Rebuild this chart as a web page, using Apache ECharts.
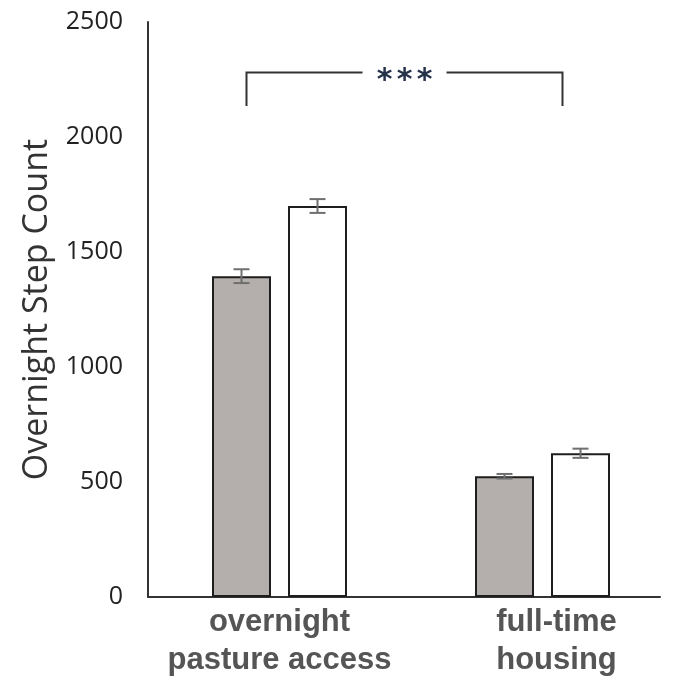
<!DOCTYPE html>
<html>
<head>
<meta charset="utf-8">
<script src="https://cdn.jsdelivr.net/npm/echarts@6/dist/echarts.min.js"></script>
<style>
  html, body { margin: 0; padding: 0; background: #fff; }
  #main { width: 677px; height: 678px; }
</style>
</head>
<body>
<div id="main"></div>
<script>
// data
const categories = ['overnight\npasture access', 'full-time\nhousing'];
const greyValues = [1395, 525];
const whiteValues = [1700, 625];
const greyErrors = [30, 10];
const whiteErrors = [30, 20];
const yMin = 0;
const yMax = 2500;
const yStep = 500;
// significance bracket: [from category, to category, top value, foot value]
const bracket = [[0, 1, 2280, 2135]];
const bracketStars = ['*', '*', '*'];

const barW = 59;
const barGap = 17;
const half = (barW + barGap) / 2;

const chart = echarts.init(document.getElementById('main'));

// error bar for one series, shifted to its bar
const errorBars = (shift) => (params, api) => {
    const x = api.value(0);
    const v = api.value(1);
    const e = api.value(2);
    const hi = api.coord([x, v + e]);
    const lo = api.coord([x, v - e]);
    const cx = hi[0] + shift;
    const cap = 8;
    const style = { stroke: '#6f6f6f', lineWidth: 2 };
    return {
        type: 'group',
        children: [
            { type: 'line', shape: { x1: cx, y1: hi[1], x2: cx, y2: lo[1] }, style },
            { type: 'line', shape: { x1: cx - cap, y1: hi[1], x2: cx + cap, y2: hi[1] }, style },
            { type: 'line', shape: { x1: cx - cap, y1: lo[1], x2: cx + cap, y2: lo[1] }, style }
        ]
    };
};

const labelStyle = { fontFamily: 'Liberation Sans', fontWeight: 'bold', fontSize: 31, color: '#555', lineHeight: 38 };

const option = {
    animation: false,
    backgroundColor: '#fff',
    grid: [
        { left: 148, right: 3, top: 22, bottom: 81 },
        { left: 148, right: 17, top: 22, bottom: 81 }
    ],
    xAxis: [
        {
            type: 'category',
            gridIndex: 0,
            data: categories,
            axisLine: { show: false },
            axisTick: { show: false },
            axisLabel: {
                margin: 6,
                interval: 0,
                formatter: (v, i) => {
                    const k = i === 1 ? 'b' : 'a';
                    return v.split('\n').map(s => '{' + k + '|' + s + '}').join('\n');
                },
                rich: {
                    a: labelStyle,
                    b: Object.assign({}, labelStyle, { padding: [0, 0, 0, 28] })
                }
            }
        },
        {
            type: 'value',
            gridIndex: 1,
            axisLine: { show: true, onZero: false, lineStyle: { color: '#333', width: 2 } },
            axisTick: { show: false },
            axisLabel: { show: false },
            splitLine: { show: false }
        }
    ],
    yAxis: [
        {
            type: 'value',
            gridIndex: 0,
            min: yMin,
            max: yMax,
            interval: yStep,
            name: 'Overnight Step Count',
            nameLocation: 'middle',
            nameGap: 94,
            nameTextStyle: { fontFamily: 'Open Sans', fontSize: 34, color: '#333' },
            axisLine: { show: true, lineStyle: { color: '#333', width: 2 } },
            axisTick: { show: false },
            splitLine: { show: false },
            axisLabel: {
                margin: 25,
                fontFamily: 'Open Sans',
                fontSize: 25,
                color: '#222',
                formatter: (v) => String(v)
            }
        },
        { type: 'value', gridIndex: 1, show: false, min: yMin, max: yMax }
    ],
    series: [
        {
            type: 'bar',
            data: greyValues,
            barWidth: barW,
            barGap: (barGap / barW * 100) + '%',
            itemStyle: { color: '#b4afac', borderColor: '#1e1e1e', borderWidth: 2 }
        },
        {
            type: 'bar',
            data: whiteValues,
            barWidth: barW,
            itemStyle: { color: '#ffffff', borderColor: '#1e1e1e', borderWidth: 2 }
        },
        {
            type: 'custom',
            renderItem: errorBars(-half),
            data: greyValues.map((v, i) => [i, v, greyErrors[i]]),
            z: 5
        },
        {
            type: 'custom',
            renderItem: errorBars(half),
            data: whiteValues.map((v, i) => [i, v, whiteErrors[i]]),
            z: 5
        },
        {
            type: 'custom',
            data: bracket,
            z: 5,
            renderItem: (params, api) => {
                const top0 = api.coord([api.value(0), api.value(2)]);
                const top1 = api.coord([api.value(1), api.value(2)]);
                const foot = api.coord([api.value(0), api.value(3)]);
                const left = top0[0] - 33;
                const right = top1[0] + 20;
                const mid = (left + right) / 2;
                const gapHalf = 42;
                const y = top0[1];
                const style = { stroke: '#333', lineWidth: 2, fill: null };
                const stars = bracketStars.map((s, i) => ({
                    type: 'text',
                    x: mid + (i - 1) * 20,
                    y: y + 9,
                    style: {
                        text: s,
                        fontFamily: 'DejaVu Sans',
                        fontWeight: 'bold',
                        fontSize: 30,
                        fill: '#26324a',
                        align: 'center',
                        verticalAlign: 'middle'
                    }
                }));
                return {
                    type: 'group',
                    children: [
                        { type: 'polyline', shape: { points: [[left, foot[1]], [left, y], [mid - gapHalf, y]] }, style },
                        { type: 'polyline', shape: { points: [[mid + gapHalf, y], [right, y], [right, foot[1]]] }, style }
                    ].concat(stars)
                };
            }
        }
    ]
};

chart.setOption(option);
</script>
</body>
</html>
